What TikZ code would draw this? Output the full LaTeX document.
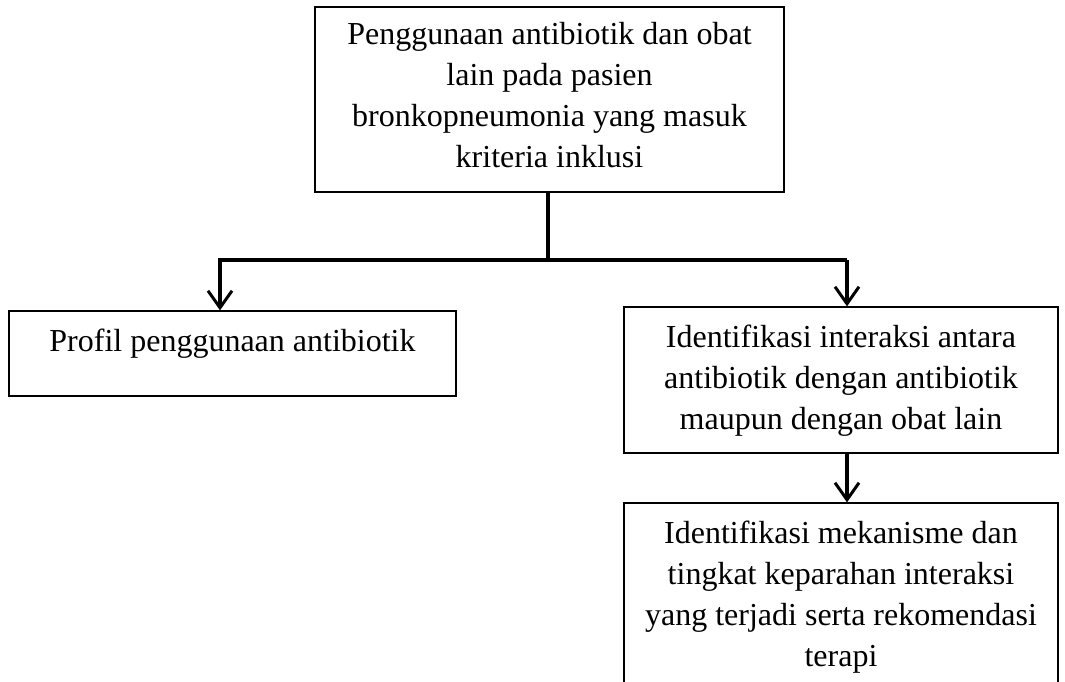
\documentclass[tikz,border=0pt]{standalone}
\usepackage{fontspec}
\setmainfont{Liberation Serif}
\usetikzlibrary{arrows.meta}
\begin{document}
\begin{tikzpicture}[x=1pt,y=-1pt,
  box/.style={draw, line width=1.3pt, inner sep=0pt},
  txt/.style={align=center, font=\fontsize{32}{41}\selectfont, inner sep=0pt, anchor=base},
  conn/.style={line width=3.5pt},
  arr/.style={conn, -{Straight Barb[length=17pt,width=24pt,line width=3pt]}}]
\clip (0,0) rectangle (1065,681);
% boxes
\node[box, minimum width=469pt, minimum height=185pt] (top) at (549.5,99.5) {};
\node[box, minimum width=447pt, minimum height=85pt] (lbox) at (232.5,353.5) {};
\node[box, minimum width=434pt, minimum height=146pt] (rbox) at (841,380) {};
\node[box, minimum width=434pt, minimum height=194pt] (bbox) at (841,600) {};
% texts (anchor=base is the baseline of the last line)
\node[txt] (toptxt) at (549.5,167) {Penggunaan antibiotik dan obat\\lain pada pasien\\bronkopneumonia yang masuk\\kriteria inklusi};
\node[txt] (ltxt) at (232.5,351) {Profil penggunaan antibiotik};
\node[txt] (rtxt) at (841,429) {Identifikasi interaksi antara\\antibiotik dengan antibiotik\\maupun dengan obat lain};
\node[txt] (btxt) at (841,666) {Identifikasi mekanisme dan\\tingkat keparahan interaksi\\yang terjadi serta rekomendasi\\terapi};
% connectors
\coordinate (j) at (548,260);
\coordinate (jl) at (220,260);
\coordinate (jr) at (847,260);
\draw[conn] (top.south -| j) -- (j);
\draw[arr] (jr) -- (jl) -- (lbox.north -| jl);
\draw[arr] (jr) -- (rbox.north -| jr);
\draw[arr] (rbox.south -| jr) -- (bbox.north -| jr);
\end{tikzpicture}
\end{document}
